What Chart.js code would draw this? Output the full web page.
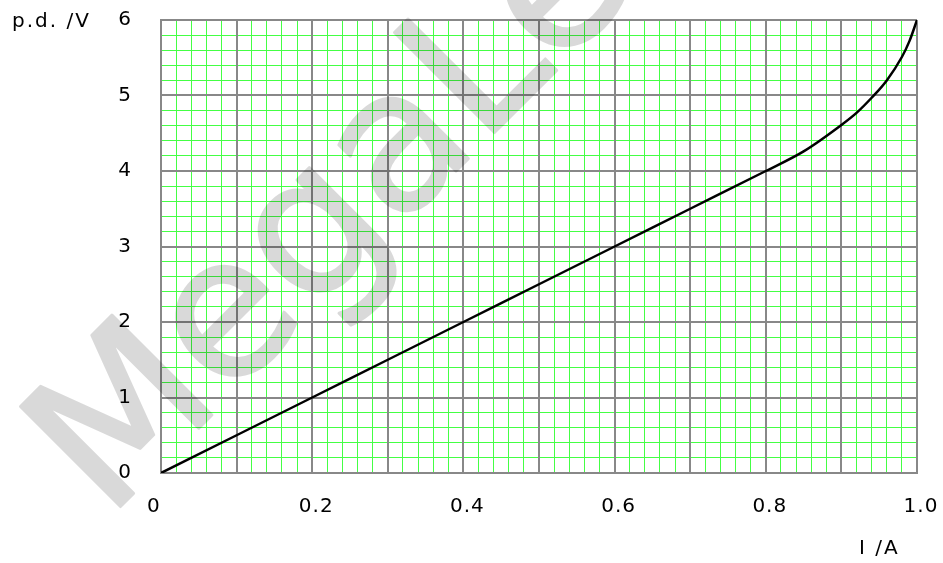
<!DOCTYPE html>
<html>
<head>
<meta charset="utf-8">
<script src="https://cdn.jsdelivr.net/npm/chart.js@4/dist/chart.umd.min.js"></script>
<style>
  html, body { margin: 0; padding: 0; background: #fff; }
  #wrap { width: 943px; height: 563px; }
</style>
</head>
<body>
<div id="wrap"><canvas id="grafico"></canvas></div>
<script>
// dados
const correnteA = [0, 0.1, 0.2, 0.3, 0.4, 0.5, 0.6, 0.7, 0.8, 0.85, 0.9, 0.92, 0.94, 0.96, 0.98, 0.99, 1.0];
const tensaoV   = [0, 0.5, 1.0, 1.5, 2.0, 2.5, 3.0, 3.5, 4.0, 4.26, 4.61, 4.77, 4.97, 5.20, 5.51, 5.72, 6.0];
const rotulosX = ['0', '0.2', '0.4', '0.6', '0.8', '1.0'];
const rotulosY = ['0', '1', '2', '3', '4', '5', '6'];

const cinza = '#888888';
const verde = '#44ff44';
const fonte = { family: 'DejaVu Sans, Verdana, sans-serif', size: 20 };

// marca d'água e títulos dos eixos
const extras = {
  id: 'extras',
  beforeDraw(chart) {
    chart.ctx.letterSpacing = '1px';
  },
  beforeDatasetsDraw(chart) {
    // desenha a marca d'água num canvas à parte e cola com transparência
    const aux = document.createElement('canvas');
    aux.width = chart.width;
    aux.height = chart.height;
    const m = aux.getContext('2d');
    m.translate(107, 520);
    m.rotate(-45 * Math.PI / 180);
    m.font = '194px "DejaVu Sans", sans-serif';
    m.fillStyle = '#000';
    m.strokeStyle = '#000';
    m.lineWidth = 3;
    m.lineJoin = 'round';
    m.fillText('MegaLecture', 0, 0);
    m.strokeText('MegaLecture', 0, 0);

    const ctx = chart.ctx;
    ctx.save();
    ctx.globalAlpha = 0.15;
    ctx.drawImage(aux, 0, 0);
    ctx.restore();
  },
  afterDraw(chart) {
    const ctx = chart.ctx;
    const a = chart.chartArea;
    ctx.save();
    ctx.letterSpacing = '2px';
    ctx.font = '20px "DejaVu Sans", sans-serif';
    ctx.fillStyle = '#000';
    ctx.textBaseline = 'middle';
    ctx.textAlign = 'left';
    ctx.fillText('p.d. /V', 12, a.top + 2);
    ctx.fillText('I /A', a.right - 58, a.bottom + 76);
    ctx.restore();
    ctx.letterSpacing = '0px';
  }
};

new Chart(document.getElementById('grafico'), {
  type: 'line',
  data: {
    datasets: [{
      data: correnteA.map((x, i) => ({ x: x, y: tensaoV[i] })),
      borderColor: '#000',
      borderWidth: 2.5,
      pointRadius: 0,
      cubicInterpolationMode: 'monotone',
      fill: false,
      xAxisID: 'x',
      yAxisID: 'y'
    }]
  },
  options: {
    responsive: true,
    maintainAspectRatio: false,
    animation: false,
    layout: { padding: { left: 0, top: 20, right: 26, bottom: 0 } },
    plugins: { legend: { display: false }, tooltip: { enabled: false } },
    scales: {
      // grade fina (verde)
      xMenor: {
        type: 'linear', position: 'bottom', min: 0, max: 1,
        ticks: { stepSize: 0.02, display: false },
        grid: { color: verde, lineWidth: 1, drawTicks: false },
        border: { display: false },
        afterFit: s => { s.height = 0; }
      },
      yMenor: {
        type: 'linear', position: 'left', min: 0, max: 6,
        ticks: { stepSize: 0.2, display: false },
        grid: { color: verde, lineWidth: 1, drawTicks: false },
        border: { display: false },
        afterFit: s => { s.width = 0; }
      },
      // grade principal (cinza) com os rótulos
      x: {
        type: 'linear', position: 'bottom', min: 0, max: 1,
        ticks: {
          stepSize: 0.1, autoSkip: false, maxRotation: 0, padding: 0, labelOffset: 4,
          color: '#000', font: fonte,
          // o "0" fica um pouco à esquerda no original
          callback: (v, i) => (i % 2 === 0 ? (i === 0 ? rotulosX[0] + '   ' : rotulosX[i / 2]) : '')
        },
        grid: { color: cinza, lineWidth: 2, drawTicks: true, tickLength: 22, tickColor: 'rgba(0,0,0,0)' },
        border: { color: cinza, width: 2 },
        afterFit: s => { s.height = 90; }
      },
      y: {
        type: 'linear', position: 'left', min: 0, max: 6,
        ticks: {
          stepSize: 1, autoSkip: false, padding: 0,
          color: '#000', font: fonte,
          callback: (v, i) => rotulosY[i]
        },
        grid: { color: cinza, lineWidth: 2, drawTicks: true, tickLength: 29, tickColor: 'rgba(0,0,0,0)' },
        border: { color: cinza, width: 2 },
        afterFit: s => { s.width = 161; }
      }
    }
  },
  plugins: [extras]
});
</script>
</body>
</html>
